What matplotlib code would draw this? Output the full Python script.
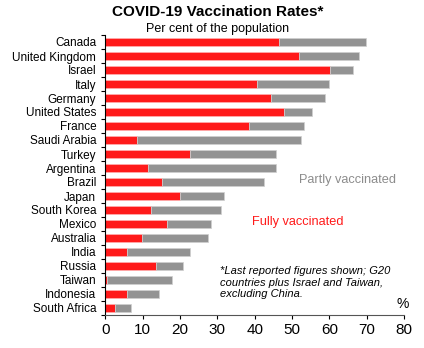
import matplotlib
matplotlib.use("Agg")
import matplotlib.pyplot as plt
import numpy as np

countries = ["Canada", "United Kingdom", "Israel", "Italy", "Germany", "United States",
             "France", "Saudi Arabia", "Turkey", "Argentina", "Brazil", "Japan",
             "South Korea", "Mexico", "Australia", "India", "Russia", "Taiwan",
             "Indonesia", "South Africa"]
fully = [46.4, 51.9, 60.2, 40.6, 44.4, 47.9, 38.4, 8.5, 22.7, 11.4, 15.2, 20.0,
         12.2, 16.4, 9.8, 5.8, 13.6, 0.5, 5.8, 2.6]
total = [69.8, 67.9, 66.3, 59.8, 58.8, 55.4, 53.3, 52.3, 45.7, 45.7, 42.6, 31.8,
         31.0, 28.2, 27.6, 22.8, 20.7, 17.9, 14.3, 6.8]
partly = [t - f for t, f in zip(total, fully)]
xticks = [0, 10, 20, 30, 40, 50, 60, 70, 80]

plt.rcParams['font.family'] = ['Liberation Sans', 'DejaVu Sans']

W, H = 424, 348
fig = plt.figure(figsize=(W / 100, H / 100), dpi=100)
ax = fig.add_axes([105.3 / W, 1 - 315 / H, (404 - 105.3) / W, (315 - 35) / H])

RED = "#ff1a1a"
GRAY = "#939393"
y = np.arange(len(countries))
ax.barh(y, fully, height=0.6, color=RED, edgecolor="#ffb0b0", linewidth=0.5)
ax.barh(y, partly, left=fully, height=0.6, color=GRAY, edgecolor="#d0d0d0", linewidth=0.5)

ax.set_xlim(0, 80)
ax.set_ylim(len(countries) - 0.5, -0.5)
ax.set_xticks(xticks)
ax.set_xticklabels([str(v) for v in xticks], fontsize=11)
ax.set_yticks(y)
ax.set_yticklabels(countries, fontsize=8.5)
ax.set_yticks(np.arange(len(countries) + 1) - 0.5, minor=True)
ax.tick_params(axis='y', which='major', length=0, pad=6.5)
ax.tick_params(axis='y', which='minor', length=2.9, width=0.8, color='black')
ax.tick_params(axis='x', which='major', length=2.9, width=0.8, color='black', pad=2.5)

for s in ['top', 'right']:
    ax.spines[s].set_visible(False)
ax.spines['left'].set_color('black')
ax.spines['left'].set_linewidth(0.8)
ax.spines['bottom'].set_color('#555555')
ax.spines['bottom'].set_linewidth(0.8)

def ft(x, yb, s, **kw):
    fig.text(x / W, 1 - yb / H, s, va='baseline', **kw)

ft(217.5, 16, "COVID-19 Vaccination Rates*", ha='center', fontsize=11, fontweight='bold')
ft(217.5, 31.7, "Per cent of the population", ha='center', fontsize=9)
ft(299, 182.5, "Partly vaccinated", ha='left', fontsize=9.2, color="#8c8c8c")
ft(252, 225, "Fully vaccinated", ha='left', fontsize=9.2, color=RED)
fig.text(219.5 / W, 1 - 266 / H,
         "*Last reported figures shown; G20\ncountries plus Israel and Taiwan,\nexcluding China.",
         ha='left', va='top', fontsize=8, style='italic', linespacing=1.2)
ft(402.3, 307.5, "%", ha='center', fontsize=10)

fig.savefig("out.png", dpi=100)
